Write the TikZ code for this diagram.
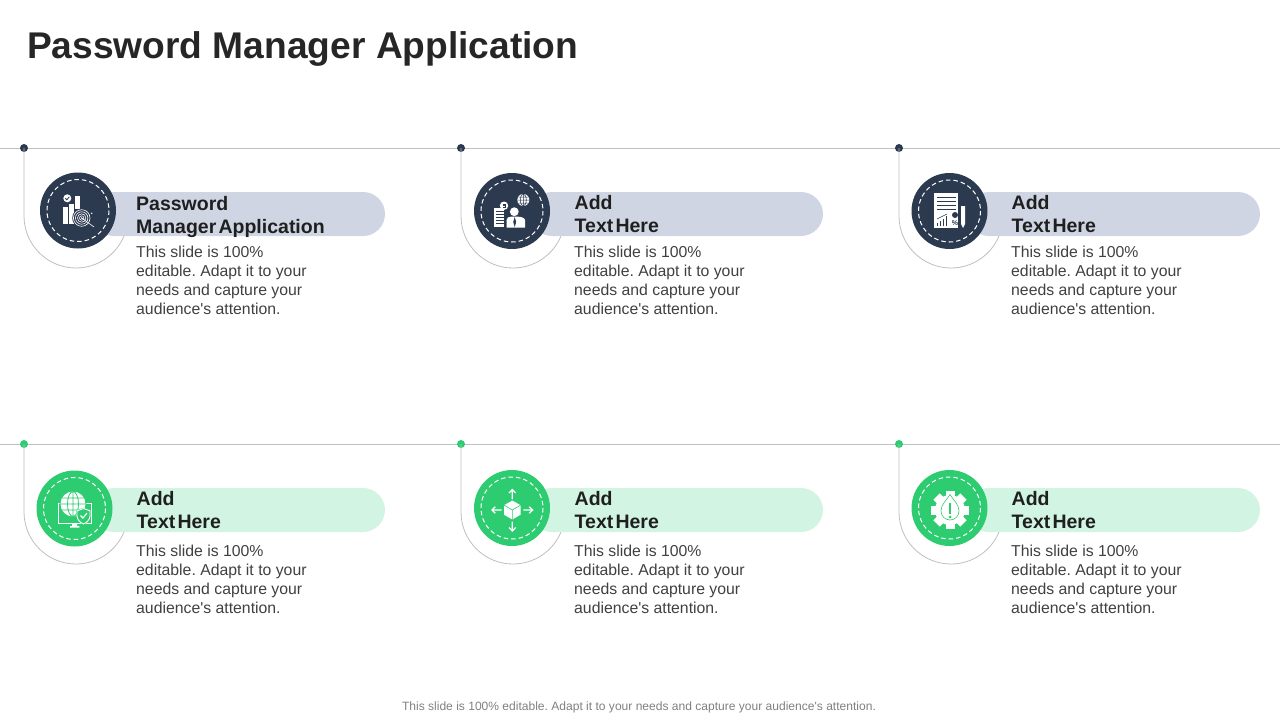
\documentclass[tikz,border=0pt]{standalone}
\usepackage{fontspec}
\usepackage{xcolor}
\newfontfamily\slidefont{Liberation Sans}
\definecolor{navy}{HTML}{2C3A50}
\definecolor{leaf}{HTML}{2ECC71}
\definecolor{navypill}{HTML}{CFD5E3}
\definecolor{leafpill}{HTML}{D2F5E3}
\definecolor{rule}{HTML}{BFBFBF}
\newcommand{\bodytext}{This slide is 100\%\\editable. Adapt it to your\\needs and capture your\\audience's attention.}
\newcommand{\narrowgap}{\hspace{2.2pt}}
\frenchspacing
\usetikzlibrary{positioning}
\tikzset{
  rulearc/.style={draw=rule,line width=0.8pt},
  dotnode/.style={circle,inner sep=0pt,minimum size=8pt},
  badge/.style={circle,inner sep=0pt,minimum size=76pt},
  pill/.style={rectangle,rounded corners=22pt,minimum width=293pt,minimum height=44pt,inner sep=0pt},
  headtext/.style={anchor=west,inner sep=0pt,align=left,text=black!88,font=\slidefont\bfseries\fontsize{19.5}{23}\selectfont},
  bodytext/.style={anchor=west,inner sep=0pt,align=left,text=black!75,font=\slidefont\fontsize{15.8}{19}\selectfont},
  ringline/.style={draw=white,line width=1pt,dash pattern=on 4.5pt off 3pt},
  iconline/.style={draw=white,line width=0.9pt},
}
\begin{document}
\begin{tikzpicture}[x=1pt,y=-1pt]
\useasboundingbox (0,0) rectangle (1280,720);
\node[anchor=west,inner sep=0pt,text=black!85,font=\slidefont\bfseries\fontsize{37.15}{40}\selectfont] (title) at (27,49) {Password Manager Application};
% top row
\coordinate (ruleAstart) at (0,148);
\coordinate (ruleAend) at (1280,148);
\draw[rulearc] (ruleAstart) -- (ruleAend);
\node[dotnode,fill=navy] (dotA) at (24,148) {};
\node[dotnode,fill=navy] (dotB) at (461,148) {};
\node[dotnode,fill=navy] (dotC) at (899,148) {};
\draw[rulearc] (dotA.center) -- ++(0,68) arc[start angle=180,end angle=338,radius=52pt];
\draw[rulearc] (dotB.center) -- ++(0,68) arc[start angle=180,end angle=338,radius=52pt];
\draw[rulearc] (dotC.center) -- ++(0,68) arc[start angle=180,end angle=338,radius=52pt];
\node[pill,fill=navypill] (pillA) at (238.5,214) {};
\node[pill,fill=navypill] (pillB) at (676.5,214) {};
\node[pill,fill=navypill] (pillC) at (1113.5,214) {};
\node[badge,fill=navy] (badgeA) at (78,210.5) {};
\node[badge,fill=navy] (badgeB) at (512,211) {};
\node[badge,fill=navy] (badgeC) at (949.5,211) {};
\draw[ringline] (78,210.5) circle (31);
\draw[ringline] (512,211) circle (31);
\draw[ringline] (949.5,211) circle (31);
\node[headtext] (headA) at (136,216.5) {Password\\Manager\narrowgap Application};
\node[headtext] (headB) at (574.5,214.5) {Add\\Text\narrowgap Here};
\node[headtext] (headC) at (1011.5,214.5) {Add\\Text\narrowgap Here};
\node[bodytext] (bodyA) at (136,280.5) {\bodytext};
\node[bodytext] (bodyB) at (574,280.5) {\bodytext};
\node[bodytext] (bodyC) at (1011,280.5) {\bodytext};
% bottom row
\coordinate (ruleBstart) at (0,444);
\coordinate (ruleBend) at (1280,444);
\draw[rulearc] (ruleBstart) -- (ruleBend);
\node[dotnode,fill=leaf] (dotD) at (24,444) {};
\node[dotnode,fill=leaf] (dotE) at (461,444) {};
\node[dotnode,fill=leaf] (dotF) at (899,444) {};
\draw[rulearc] (dotD.center) -- ++(0,68) arc[start angle=180,end angle=338,radius=52pt];
\draw[rulearc] (dotE.center) -- ++(0,68) arc[start angle=180,end angle=338,radius=52pt];
\draw[rulearc] (dotF.center) -- ++(0,68) arc[start angle=180,end angle=338,radius=52pt];
\node[pill,fill=leafpill] (pillD) at (238.5,510) {};
\node[pill,fill=leafpill] (pillE) at (676.5,510) {};
\node[pill,fill=leafpill] (pillF) at (1113.5,510) {};
\node[badge,fill=leaf] (badgeD) at (74.5,508.5) {};
\node[badge,fill=leaf] (badgeE) at (512,508) {};
\node[badge,fill=leaf] (badgeF) at (949.5,508) {};
\draw[ringline] (74.5,508.5) circle (31);
\draw[ringline] (512,508) circle (31);
\draw[ringline] (949.5,508) circle (31);
\node[headtext] (headD) at (136.5,510.5) {Add\\Text\narrowgap Here};
\node[headtext] (headE) at (574.5,510.5) {Add\\Text\narrowgap Here};
\node[headtext] (headF) at (1011.5,510.5) {Add\\Text\narrowgap Here};
\node[bodytext] (bodyD) at (136,579.5) {\bodytext};
\node[bodytext] (bodyE) at (574,579.5) {\bodytext};
\node[bodytext] (bodyF) at (1011,579.5) {\bodytext};
\node[inner sep=0pt,text=black!50,font=\slidefont\fontsize{12.05}{14}\selectfont] (footnote) at (639,707.5) {This slide is 100\% editable. Adapt it to your needs and capture your audience's attention.};
% icon A
\fill[white] (63.3,206.7) rectangle (67.7,223.5);
\fill[white] (69,204) rectangle (73.5,223.5);
\fill[white] (75,196) rectangle (79.5,209);
\fill[white] (67.3,198.3) circle (4);
\draw[navy,line width=0.8pt] (65.3,198.3) -- (66.8,199.8) -- (69.3,196.8);
\fill[navy] (81.7,218) circle (9.5);
\draw[iconline,line width=0.6pt] (81.7,218) circle (8.3) (81.7,218) circle (6.2) (81.7,218) circle (4.2) (81.7,218) circle (2.2);
\fill[white] (81.7,218) circle (0.8);
\draw[iconline,line width=0.6pt] (81.7,218) -- (94,227);
\fill[white] (91.7,213.3) circle (0.8);
% icon B
\fill[white] (493.5,208) rectangle (503.5,227);
\foreach \y in {211,214,217,220,223} \draw[navy,line width=0.7pt] (496,\y) -- (503.5,\y);
\fill[white] (504,205.7) circle (4.2);
\draw[navy,line width=0.6pt] (505.5,204.2) -- (503,204.2) -- (503,205.7) -- (505,205.7) -- (505,207.2) -- (502.5,207.2);
\fill[white] (523.3,200) circle (6);
\draw[navy,line width=0.5pt] (523.3,200) ellipse (3 and 6) (517.3,200) -- (529.3,200) (518.3,197) -- (528.3,197) (518.3,203) -- (528.3,203) (523.3,194) -- (523.3,206);
\fill[white] (514.3,211.7) circle (4.4);
\fill[white] (506.5,227.5) -- (506.5,220) .. controls (506.5,217.5) and (509,216.7) .. (511,216.7) -- (518,216.7) .. controls (520,216.7) and (525,217.5) .. (525,220) -- (525,227.5) -- cycle;
\fill[navy] (514.7,217) -- (516.2,222) -- (514.7,227) -- (513.2,222) -- cycle;
% icon C
\fill[white] (934.3,192.7) rectangle (958.3,227.7);
\foreach \y in {197.7,201.7,205,209} \draw[navy,line width=0.8pt] (937,\y) -- (956,\y);
\foreach \x/\y in {937/223,940/221,943/219,946/216} \draw[navy,line width=1pt] (\x,226) -- (\x,\y);
\draw[navy,line width=0.5pt] (937,219) -- (947,214);
\fill[navy] (955,215) circle (3);
\node[inner sep=0pt,text=navy,font=\slidefont\bfseries\fontsize{7}{7}\selectfont] (percentC) at (955,223) {\%};
\fill[white] (961,206) rectangle (965,224) (961,224) -- (965,224) -- (963,228) -- cycle;
% icon D
\draw[iconline] (58,503.5) rectangle (91,523);
\fill[white] (72,523) rectangle (77,526) (70,526) rectangle (79.3,527.5);
\fill[leaf] (73,504) circle (13.5);
\fill[white] (73,504) circle (12.5);
\draw[leaf,line width=0.8pt] (73,504) ellipse (5.5 and 12.5) (60.5,504) -- (85.5,504) (62,498) -- (84,498) (62,510) -- (84,510) (73,491.5) -- (73,516.5);
\fill[leaf,draw=leaf,line width=1.5pt] (83.5,508.5) -- (90,510.8) -- (90,516) .. controls (90,520) and (86,523) .. (83.5,524) .. controls (81,523) and (77,520) .. (77,516) -- (77,510.8) -- cycle;
\draw[iconline] (83.5,508.5) -- (90,510.8) -- (90,516) .. controls (90,520) and (86,523) .. (83.5,524) .. controls (81,523) and (77,520) .. (77,516) -- (77,510.8) -- cycle;
\draw[iconline,line width=1.1pt] (80.5,515.5) -- (83,518) -- (87,513);
% icon E
\fill[white] (512.3,500.5) -- (520.5,505.2) -- (520.5,514.8) -- (512.3,519.5) -- (504.1,514.8) -- (504.1,505.2) -- cycle;
\draw[leaf,line width=0.6pt] (504.1,505.2) -- (512.3,510) -- (520.5,505.2) (512.3,510) -- (512.3,519.5);
\draw[iconline,line width=1.2pt] (512.3,499.3) -- (512.3,489.5) (509,493) -- (512.3,489.5) -- (515.6,493);
\draw[iconline,line width=1.2pt] (512.3,521.7) -- (512.3,531) (509,527.5) -- (512.3,531) -- (515.6,527.5);
\draw[iconline,line width=1.2pt] (501.7,510) -- (491.9,510) (495.4,506.7) -- (491.9,510) -- (495.4,513.3);
\draw[iconline,line width=1.2pt] (523.3,510) -- (532.7,510) (529.2,506.7) -- (532.7,510) -- (529.2,513.3);
% icon F
\fill[white] (950,510) circle (15);
\foreach \a in {0,45,...,315} \fill[white,rotate around={\a:(950,510)}] (945.5,491) rectangle (954.5,498);
\draw[leaf,line width=0.6pt] (950,494.5) .. controls (947,500) and (941,504) .. (941,511) .. controls (941,516) and (945,520) .. (950,520) .. controls (955,520) and (959,516) .. (959,511) .. controls (959,504) and (953,500) .. (950,494.5) -- cycle;
\draw[leaf,line width=2.4pt] (950,503) -- (950,513.5);
\fill[leaf] (950,517) circle (1.5);
\end{tikzpicture}
\end{document}
